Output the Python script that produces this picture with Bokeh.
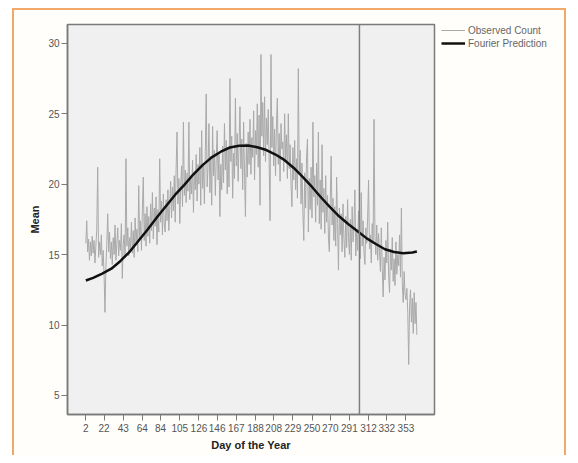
from bokeh.plotting import figure
from bokeh.layouts import row
from bokeh.models import FixedTicker, Span, Legend, LegendItem, Range1d
from bokeh.embed import file_html
from bokeh.resources import INLINE

# ---- Observed daily mean counts (days 2..365) ----
obs_d002 = [15.8, 17.4, 15.2, 16.1, 14.6, 15.9, 14.9, 16.3, 15.1, 16.0]
obs_d012 = [14.4, 15.6, 16.8, 21.2, 14.8, 15.9, 15.0, 16.4, 14.2, 15.3]
obs_d022 = [13.6, 10.9, 14.1, 15.8, 17.9, 15.2, 16.6, 14.7, 15.9, 14.3]
obs_d032 = [16.2, 15.0, 17.1, 14.6, 15.8, 16.9, 14.9, 16.0, 15.3, 17.2]
obs_d042 = [13.3, 15.7, 16.4, 14.8, 21.8, 15.6, 16.9, 14.9, 16.2, 15.4]
obs_d052 = [17.3, 15.1, 16.7, 14.8, 17.6, 15.9, 16.8, 15.2, 19.9, 16.1]
obs_d062 = [17.4, 15.3, 18.2, 20.5, 16.0, 17.9, 15.6, 18.4, 16.3, 17.7]
obs_d072 = [15.8, 18.6, 16.7, 19.4, 16.1, 18.3, 17.0, 19.1, 15.7, 18.2]
obs_d082 = [16.6, 21.8, 17.3, 18.8, 16.4, 19.3, 17.1, 16.6, 18.9, 17.4]
obs_d092 = [19.6, 16.7, 18.4, 20.2, 17.6, 19.8, 18.1, 20.6, 17.3, 21.1]
obs_d102 = [23.7, 18.6, 20.4, 17.2, 19.9, 21.3, 18.4, 24.4, 19.2, 21.0]
obs_d112 = [18.7, 20.8, 19.5, 24.4, 18.9, 20.6, 19.3, 21.7, 18.0, 20.9]
obs_d122 = [19.6, 22.1, 18.8, 21.4, 20.0, 22.6, 18.5, 23.8, 19.7, 21.5]
obs_d132 = [18.6, 22.3, 26.4, 19.8, 21.2, 24.3, 19.4, 22.0, 18.5, 24.1]
obs_d142 = [20.6, 22.4, 19.2, 21.8, 23.8, 20.3, 22.1, 17.7, 21.4, 19.6]
obs_d152 = [22.7, 20.1, 24.3, 21.0, 23.1, 19.3, 22.4, 19.8, 27.5, 21.6]
obs_d162 = [23.4, 19.0, 22.2, 20.4, 26.1, 21.3, 23.6, 20.2, 22.8, 25.5]
obs_d172 = [21.1, 23.2, 19.6, 24.4, 20.8, 17.7, 22.9, 20.5, 23.7, 21.4]
obs_d182 = [24.6, 20.7, 23.3, 21.9, 25.2, 20.3, 23.8, 22.1, 25.7, 21.2]
obs_d192 = [24.9, 18.5, 29.2, 23.4, 25.8, 22.0, 26.2, 21.6, 24.7, 22.8]
obs_d202 = [25.3, 21.5, 17.4, 29.2, 22.6, 24.8, 21.3, 23.9, 20.6, 24.2]
obs_d212 = [26.1, 21.4, 23.6, 20.2, 24.3, 22.5, 23.0, 20.9, 25.0, 21.7]
obs_d222 = [23.5, 20.4, 25.0, 21.1, 22.8, 19.9, 18.4, 22.6, 20.3, 23.1]
obs_d232 = [19.6, 21.8, 19.0, 28.2, 20.7, 22.4, 18.6, 21.5, 17.9, 16.0]
obs_d242 = [20.8, 18.3, 21.9, 23.2, 16.6, 20.4, 18.2, 21.2, 17.6, 24.4]
obs_d252 = [19.1, 20.6, 17.3, 21.5, 18.5, 23.7, 17.2, 20.3, 16.8, 22.8]
obs_d262 = [18.0, 19.7, 16.5, 20.6, 17.3, 19.2, 16.2, 15.2, 18.8, 22.0]
obs_d272 = [17.1, 19.0, 16.0, 18.4, 15.6, 20.5, 17.2, 13.9, 18.3, 16.4]
obs_d282 = [17.9, 15.2, 18.6, 16.1, 14.8, 17.7, 15.5, 18.9, 16.2, 15.0]
obs_d292 = [17.5, 14.6, 18.4, 15.9, 17.0, 19.6, 14.9, 16.8, 15.3, 18.1]
obs_d302 = [16.0, 14.7, 19.4, 15.6, 17.4, 15.1, 14.3, 16.9, 15.8, 17.6]
obs_d312 = [20.3, 15.4, 16.4, 14.4, 17.2, 15.8, 24.6, 16.3, 15.0, 17.1]
obs_d322 = [14.6, 16.5, 15.2, 13.8, 16.9, 14.1, 12.0, 14.8, 13.2, 16.0]
obs_d332 = [14.4, 17.3, 13.5, 12.3, 15.4, 13.9, 16.2, 13.1, 14.7, 12.8]
obs_d342 = [15.9, 13.6, 15.0, 14.2, 16.4, 13.4, 18.3, 12.9, 11.6, 13.8]
obs_d352 = [12.2, 11.8, 12.6, 10.9, 7.2, 11.4, 12.5, 10.2, 11.9, 9.4]
obs_d362 = [12.3, 10.1, 11.6, 9.3]

obs_rows = [obs_d002, obs_d012, obs_d022, obs_d032, obs_d042, obs_d052, obs_d062,
            obs_d072, obs_d082, obs_d092, obs_d102, obs_d112, obs_d122, obs_d132,
            obs_d142, obs_d152, obs_d162, obs_d172, obs_d182, obs_d192, obs_d202,
            obs_d212, obs_d222, obs_d232, obs_d242, obs_d252, obs_d262, obs_d272,
            obs_d282, obs_d292, obs_d302, obs_d312, obs_d322, obs_d332, obs_d342,
            obs_d352, obs_d362]
observed = [v for r in obs_rows for v in r]
obs_days = list(range(2, 2 + len(observed)))

# ---- Fourier prediction curve ----
fourier_days = [2, 10, 20, 30, 40, 50, 60, 70, 80, 90, 100, 110, 120, 130, 140, 150,
                160, 170, 180, 190, 200, 210, 220, 230, 240, 250, 260, 270, 280, 290,
                300, 310, 320, 330, 340, 350, 360, 365]
fourier_vals = [13.16, 13.35, 13.65, 14.0, 14.55, 15.2, 16.0, 16.8, 17.65, 18.45, 19.25,
                19.95, 20.7, 21.35, 21.9, 22.3, 22.6, 22.73, 22.74, 22.62, 22.42, 22.1,
                21.7, 21.15, 20.5, 19.8, 19.05, 18.35, 17.7, 17.15, 16.65, 16.15, 15.75,
                15.38, 15.18, 15.1, 15.15, 15.22]

x_ticks = [2, 22, 43, 64, 84, 105, 126, 146, 167, 188, 208, 229, 250, 270, 291, 312, 332, 353]
y_ticks = [5, 10, 15, 20, 25, 30]
ref_day = 302
series_labels = ["Observed Count", "Fourier Prediction"]

FONT = "Liberation Sans"
BORDER = "2px solid #f2a868"
CREAM = "#fffefb"
OBS_COLOR = "#a9a9a9"
FOUR_COLOR = "#111111"

p = figure(width=423, height=445,
           x_range=Range1d(-18.1, 384.3), y_range=Range1d(3.65, 31.33),
           output_backend="svg", toolbar_location=None,
           min_border_left=53, min_border_right=3, min_border_top=14, min_border_bottom=41,
           background_fill_color="#f0f0f0", border_fill_color=CREAM,
           outline_line_color="#7a7a7a", outline_line_width=1.5)
p.grid.visible = False

p.line(obs_days, observed, line_color=OBS_COLOR, line_width=1)
p.line(fourier_days, fourier_vals, line_color=FOUR_COLOR, line_width=2.5)
p.add_layout(Span(location=ref_day, dimension="height", line_color="#7f7f7f", line_width=1.5))

for ax in (p.xaxis[0], p.yaxis[0]):
    ax.axis_line_color = "#7a7a7a"
    ax.axis_line_width = 1.5
    ax.major_tick_line_color = "#7a7a7a"
    ax.major_tick_line_width = 1
    ax.major_tick_out = 6
    ax.major_tick_in = 0
    ax.minor_tick_line_color = None
    ax.major_label_text_font = FONT
    ax.major_label_text_font_size = "10px"
    ax.major_label_text_color = "#555555"
    ax.axis_label_text_font = FONT
    ax.axis_label_text_font_size = "11px"
    ax.axis_label_text_font_style = "bold"
    ax.axis_label_text_color = "#222222"

p.xaxis[0].ticker = FixedTicker(ticks=x_ticks)
p.yaxis[0].ticker = FixedTicker(ticks=y_ticks)
p.xaxis[0].axis_label = "Day of the Year"
p.yaxis[0].axis_label = "Mean"
p.xaxis[0].major_label_standoff = 3
p.xaxis[0].axis_label_standoff = 4
p.yaxis[0].major_label_standoff = 2
p.yaxis[0].axis_label_standoff = 4

# ---- legend panel (second figure, to the right of the plot frame) ----
pl = figure(width=127, height=445, x_range=Range1d(0, 1), y_range=Range1d(0, 1),
            x_axis_type=None, y_axis_type=None,
            output_backend="svg", toolbar_location=None,
            min_border_left=4, min_border_right=0, min_border_top=14, min_border_bottom=0,
            background_fill_color=CREAM, border_fill_color=CREAM, outline_line_color=None)
pl.grid.visible = False
# legend-key renderers: their points lie outside this panel's ranges, so only the keys show
lg_obs = pl.line([-2, -1], [-2, -1], line_color=OBS_COLOR, line_width=1)
lg_four = pl.line([-2, -1], [-2, -1], line_color=FOUR_COLOR, line_width=2.5)

legend = Legend(items=[LegendItem(label=series_labels[0], renderers=[lg_obs]),
                       LegendItem(label=series_labels[1], renderers=[lg_four])],
                location="top_left", margin=0, padding=0, spacing=1,
                glyph_width=24, glyph_height=12, label_height=12, label_standoff=3,
                label_text_font=FONT, label_text_font_size="10px",
                label_text_color="#666666",
                border_line_color=None, background_fill_alpha=0)
pl.add_layout(legend, "center")

layout = row(p, pl, spacing=0,
             styles={"border-top": BORDER, "border-left": BORDER, "border-right": BORDER,
                     "margin-left": "12px", "margin-top": "8px",
                     "background-color": CREAM})

open("out.html", "w").write(file_html(layout, INLINE))
